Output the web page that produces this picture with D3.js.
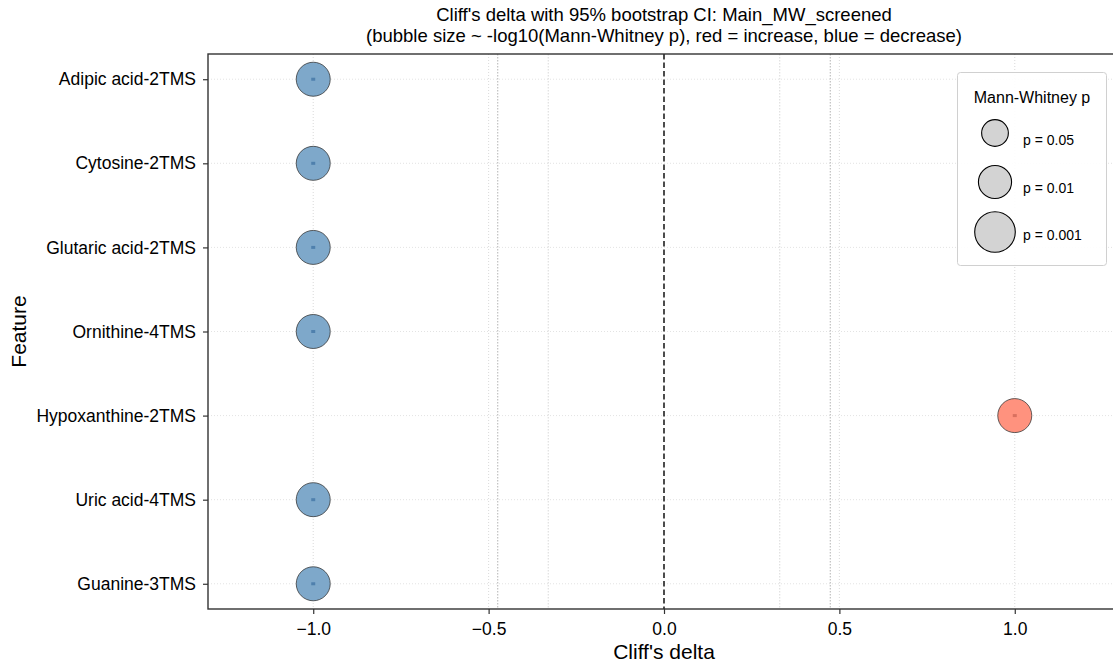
<!DOCTYPE html>
<html>
<head>
<meta charset="utf-8">
<script src="https://cdn.jsdelivr.net/npm/d3@7"></script>
<style>
    body { margin: 0; background: #fff; }
    text { font-family: "Liberation Sans", Arial, Helvetica, sans-serif; fill: #000; }
</style>
</head>
<body>
<svg id="chart"></svg>
<script>
// values
const features = ["Adipic acid-2TMS", "Cytosine-2TMS", "Glutaric acid-2TMS", "Ornithine-4TMS",
    "Hypoxanthine-2TMS", "Uric acid-4TMS", "Guanine-3TMS"];
const cliffDelta = [-1, -1, -1, -1, 1, -1, -1];
const ciLow = [-1, -1, -1, -1, 1, -1, -1];
const ciHigh = [-1, -1, -1, -1, 1, -1, -1];
const mwP = [0.0079, 0.0079, 0.0079, 0.0079, 0.0079, 0.0079, 0.0079];
const xTicks = [-1.0, -0.5, 0.0, 0.5, 1.0];
const legendP = [0.05, 0.01, 0.001];
const thresholds = [0.33, 0.474];

const W = 1113, H = 664;
const margin = { top: 54, left: 208, bottom: 55 };
const plotRight = 1120; // right spine falls just outside the picture
const yTop = margin.top, yBottom = H - margin.bottom;

const svg = d3.select("#chart").attr("width", W).attr("height", H);

const x = d3.scaleLinear().domain([-1.3, 1.3]).range([margin.left, plotRight]);
const y = d3.scalePoint().domain(features).range([yTop, yBottom]).padding(0.3);
const r = d3.scaleSqrt().domain([0, 1]).range([0, 11.72]);   // r^2 ~ -log10(p)

// grid
const grid = svg.append("g");
grid.selectAll(".vg").data(xTicks.filter(d => d !== 0)).join("line")
    .attr("x1", d => x(d)).attr("x2", d => x(d))
    .attr("y1", yTop).attr("y2", yBottom)
    .attr("stroke", "#d0d0d0").attr("stroke-width", 0.8).attr("stroke-dasharray", "1,2");
grid.selectAll(".hg").data(features).join("line")
    .attr("x1", margin.left).attr("x2", plotRight)
    .attr("y1", d => y(d)).attr("y2", d => y(d))
    .attr("stroke", "#dcdcdc").attr("stroke-width", 0.8).attr("stroke-dasharray", "1,2");

// effect size thresholds
thresholds.forEach((t, i) => {
    [-t, t].forEach(v => {
        svg.append("line")
            .attr("x1", x(v)).attr("x2", x(v)).attr("y1", yTop).attr("y2", yBottom)
            .attr("stroke", i === 0 ? "#d9d9d9" : "#b3b3b3")
            .attr("stroke-width", 1).attr("stroke-dasharray", "1.5,1.5");
    });
});

// zero line
svg.append("line")
    .attr("x1", x(0)).attr("x2", x(0)).attr("y1", yTop).attr("y2", yBottom)
    .attr("stroke", "#000").attr("stroke-width", 1.4).attr("stroke-dasharray", "5.5,3");

// bubbles
const pts = features.map((f, i) => ({ f, d: cliffDelta[i], lo: ciLow[i], hi: ciHigh[i], p: mwP[i] }));

svg.append("g").selectAll("circle").data(pts).join("circle")
    .attr("cx", d => x(d.d)).attr("cy", d => y(d.f))
    .attr("r", d => r(-Math.log10(d.p)))
    .attr("fill", d => d.d > 0 ? "#ff927e" : "#7ea8ca")
    .attr("stroke", "#333").attr("stroke-opacity", 0.85).attr("stroke-width", 0.9);

// CI bars (collapsed) and centre marks
svg.append("g").selectAll("line").data(pts).join("line")
    .attr("x1", d => x(d.lo)).attr("x2", d => x(d.hi))
    .attr("y1", d => y(d.f)).attr("y2", d => y(d.f))
    .attr("stroke", "#555").attr("stroke-width", 1);
svg.append("g").selectAll("rect").data(pts).join("rect")
    .attr("x", d => x(d.d) - 2).attr("y", d => y(d.f) - 1.5)
    .attr("width", 4).attr("height", 3)
    .attr("fill", d => d.d > 0 ? "#d9705f" : "#4f80ad");

// axes
const xAxis = svg.append("g").attr("transform", `translate(0,${yBottom})`)
    .call(d3.axisBottom(x).tickValues(xTicks).tickSize(5).tickPadding(9)
        .tickFormat(d => d3.format(".1f")(d).replace("-", "\u2212")));
xAxis.select(".domain").remove();
xAxis.selectAll("line").attr("stroke", "#333").attr("stroke-width", 1.2);
xAxis.selectAll("text").attr("font-size", 17.5);

const yAxis = svg.append("g").attr("transform", `translate(${margin.left},0)`)
    .call(d3.axisLeft(y).tickSize(5).tickPadding(7));
yAxis.select(".domain").remove();
yAxis.selectAll("line").attr("stroke", "#333").attr("stroke-width", 1.2);
yAxis.selectAll("text").attr("font-size", 17.5);

// spines
svg.append("rect")
    .attr("x", margin.left).attr("y", yTop)
    .attr("width", plotRight - margin.left).attr("height", yBottom - yTop)
    .attr("fill", "none").attr("stroke", "#333").attr("stroke-width", 1.4);

// labels
svg.append("text").attr("x", x(0)).attr("y", 659).attr("text-anchor", "middle")
    .attr("font-size", 21).text("Cliff's delta");
svg.append("text").attr("transform", `translate(26,${(yTop + yBottom) / 2}) rotate(-90)`)
    .attr("text-anchor", "middle").attr("font-size", 21).text("Feature");

svg.append("text").attr("x", x(0)).attr("y", 21).attr("text-anchor", "middle")
    .attr("font-size", 18.5).text("Cliff's delta with 95% bootstrap CI: Main_MW_screened");
svg.append("text").attr("x", x(0)).attr("y", 42).attr("text-anchor", "middle")
    .attr("font-size", 18.5).text("(bubble size ~ -log10(Mann-Whitney p), red = increase, blue = decrease)");

// size legend
const lg = svg.append("g");
lg.append("rect").attr("x", 957.5).attr("y", 72.5).attr("width", 149).attr("height", 193)
    .attr("rx", 3).attr("fill", "#fff").attr("fill-opacity", 0.9)
    .attr("stroke", "#d0d0d0").attr("stroke-width", 1);
lg.append("text").attr("x", 1032).attr("y", 103).attr("text-anchor", "middle")
    .attr("font-size", 16).text("Mann-Whitney p");
const legY = [133, 182, 232];
const legTextY = [145, 193, 240];
lg.selectAll("circle").data(legendP).join("circle")
    .attr("cx", 995).attr("cy", (d, i) => legY[i])
    .attr("r", d => r(-Math.log10(d)))
    .attr("fill", "#d3d3d3").attr("stroke", "#000").attr("stroke-width", 1.1);
lg.selectAll(".lt").data(legendP).join("text")
    .attr("x", 1023).attr("y", (d, i) => legTextY[i])
    .attr("font-size", 14).text(d => `p = ${d}`);
</script>
</body>
</html>
